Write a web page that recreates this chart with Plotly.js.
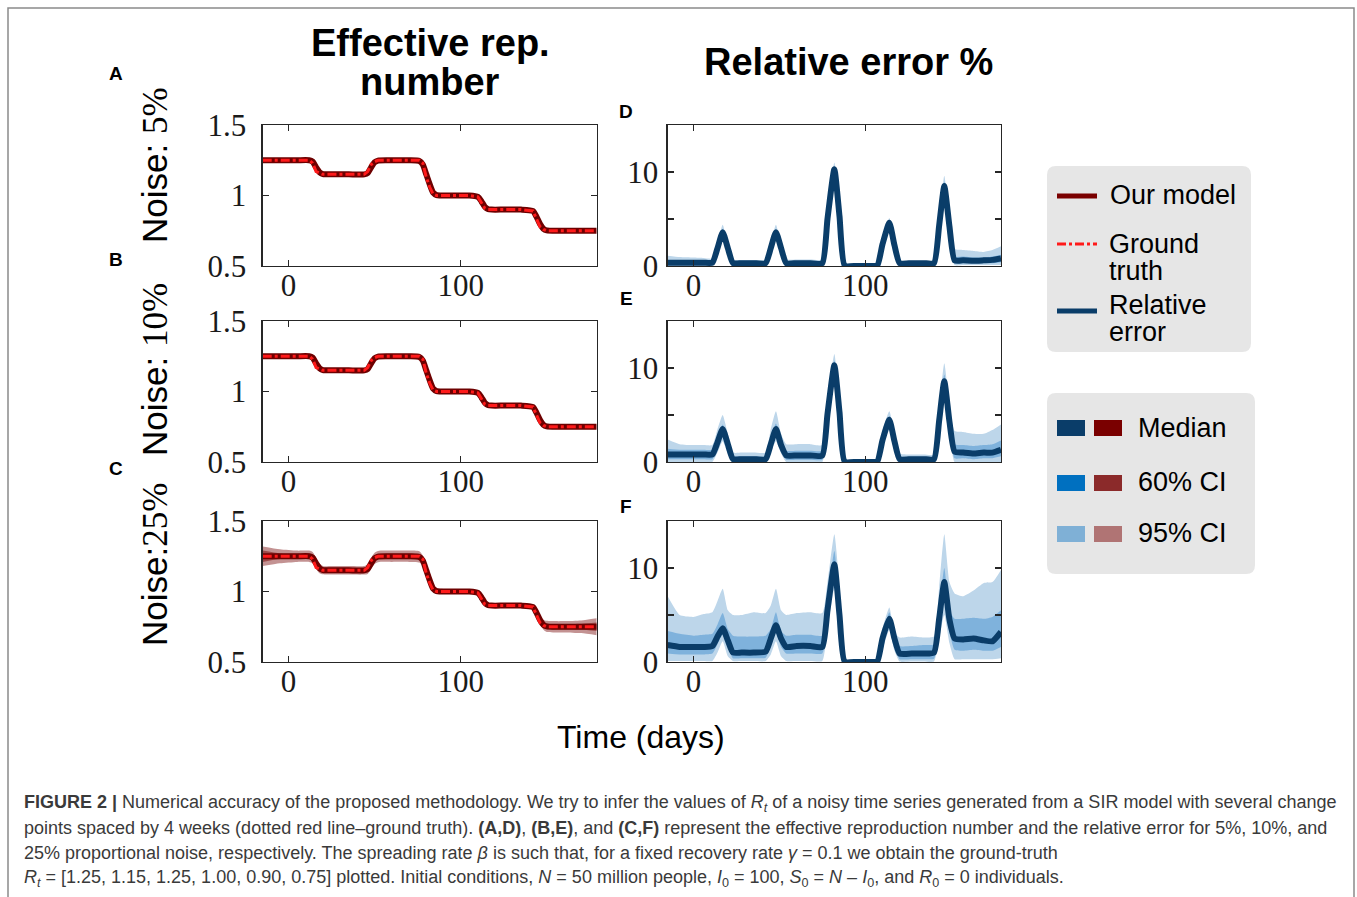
<!DOCTYPE html>
<html><head><meta charset="utf-8">
<script src="https://cdn.plot.ly/plotly-3.0.1.min.js"></script>
<style>html,body{margin:0;padding:0;background:#fff}#chart{width:1357px;height:897px}</style>
</head><body><div id="chart"></div>
<script>
// ---------- DATA ----------
const rtDays = [-15,-5,5,12,14,16,18,20,25,35, 44,46,48,50,52,60,70,76,78,80, 82,84,86,95,105,110,112,114,116,118, 125,135,142,144,146,148,150,160,170,179];
const rtModel = [1.25,1.25,1.25,1.25,1.24,1.20,1.165,1.152,1.15,1.15, 1.15,1.16,1.20,1.235,1.248,1.25,1.25,1.245,1.22,1.15, 1.08,1.02,1.003,1.0,1.0,0.99,0.96,0.92,0.903,0.90, 0.90,0.90,0.89,0.85,0.80,0.765,0.752,0.75,0.75,0.75];
const rtTruth = [1.25,1.25,1.25,1.25,1.23,1.17,1.16,1.15,1.15,1.15, 1.15,1.17,1.22,1.24,1.25,1.25,1.25,1.25,1.23,1.13, 1.06,1.01,1.0,1.0,1.0,0.99,0.95,0.91,0.9,0.9, 0.9,0.9,0.89,0.84,0.78,0.76,0.75,0.75,0.75,0.75];
const cHi95 = [1.32,1.30,1.29,1.29,1.28,1.24,1.20,1.18,1.18,1.18, 1.18,1.195,1.24,1.275,1.288,1.29,1.29,1.285,1.255,1.18, 1.105,1.04,1.023,1.015,1.015,1.005,0.975,0.935,0.918,0.915, 0.915,0.915,0.91,0.875,0.83,0.80,0.792,0.79,0.795,0.81];
const cLo95 = [1.18,1.20,1.21,1.21,1.20,1.16,1.13,1.122,1.12,1.12, 1.12,1.125,1.16,1.195,1.208,1.21,1.21,1.205,1.185,1.12, 1.055,1.0,0.983,0.985,0.985,0.975,0.945,0.905,0.888,0.885, 0.885,0.885,0.87,0.825,0.77,0.73,0.712,0.71,0.705,0.69];
const cHi60 = [1.29,1.27,1.268,1.268,1.258,1.218,1.183,1.17,1.168,1.168, 1.168,1.178,1.218,1.253,1.266,1.268,1.268,1.263,1.238,1.168, 1.095,1.032,1.013,1.008,1.008,0.998,0.968,0.928,0.911,0.908, 0.908,0.908,0.9,0.862,0.815,0.782,0.772,0.77,0.772,0.78];
const cLo60 = [1.21,1.23,1.232,1.232,1.222,1.182,1.147,1.134,1.132,1.132, 1.132,1.142,1.182,1.217,1.23,1.232,1.232,1.227,1.202,1.132, 1.065,1.008,0.993,0.992,0.992,0.982,0.952,0.912,0.895,0.892, 0.892,0.892,0.88,0.838,0.785,0.748,0.732,0.73,0.728,0.72];

const errDays = [-15,-8,0,6,11,14,17,20,23,28, 35,42,45,48,51,54,60,68,75,78, 82,85,88,95,103,107,110,114,117,120, 127,134,140,143,146,149,152,157,163,169, 174,179];
// Panel D (5% noise)
const dMed  = [0.35,0.35,0.35,0.35,0.35,1.9,3.6,1.9,0.3,0.3, 0.3,0.3,1.9,3.6,1.9,0.3,0.3,0.3,0.3,5.0, 10.3,5.3,0.05,0,0,0.05,2.3,4.6,2.2,0.3, 0.3,0.3,0.3,4.3,8.5,4.2,0.6,0.6,0.55,0.6, 0.65,0.8];
const dHi95 = [1.1,0.95,0.9,0.85,0.8,2.4,4.4,2.3,0.7,0.65, 0.65,0.65,2.4,4.4,2.3,0.7,0.7,0.7,0.7,5.6, 11.0,5.8,0.2,0,0,0.2,2.7,5.1,2.6,0.5, 0.45,0.45,0.5,4.9,9.6,4.8,1.8,1.7,1.6,1.5, 1.7,2.1];
const dLo95 = [0,0,0,0,0,1.4,2.9,1.5,0,0, 0,0,1.4,3.0,1.5,0,0,0,0,4.3, 9.6,4.8,0,0,0,0,1.9,4.1,1.8,0, 0,0,0,3.8,7.8,3.6,0.1,0.1,0.1,0.1, 0.1,0.1];
const dHi60 = [0.6,0.55,0.55,0.55,0.55,2.1,3.9,2.1,0.45,0.45, 0.45,0.45,2.1,3.9,2.1,0.45,0.45,0.45,0.45,5.3, 10.6,5.5,0.1,0,0,0.1,2.5,4.8,2.4,0.45, 0.45,0.45,0.45,4.6,9.0,4.5,1.0,1.0,0.9,0.9, 1.0,1.2];
const dLo60 = [0.1,0.1,0.1,0.1,0.1,1.7,3.3,1.7,0.1,0.1, 0.1,0.1,1.7,3.3,1.7,0.1,0.1,0.1,0.1,4.7, 10.0,5.1,0,0,0,0,2.1,4.4,2.0,0.1, 0.1,0.1,0.1,4.0,8.1,3.9,0.3,0.3,0.3,0.3, 0.3,0.4];
// Panel E (10% noise)
const eMed  = [0.8,0.8,0.8,0.8,0.8,2.1,3.5,1.9,0.3,0.3, 0.3,0.3,1.9,3.5,1.8,0.7,0.7,0.7,0.7,5.1, 10.3,5.3,0.05,0,0,0.05,2.3,4.5,2.2,0.3, 0.3,0.3,0.3,4.4,8.6,4.3,1.1,1.0,0.9,1.0, 1.0,1.3];
const eHi95 = [2.4,1.9,1.8,1.8,1.8,3.5,5.0,3.0,1.0,1.0, 1.0,1.0,3.5,5.4,3.0,1.9,1.9,1.9,1.8,6.5, 11.5,6.3,0.3,0,0,0.3,3.3,5.4,3.0,0.9, 0.8,0.8,0.8,5.8,10.5,6.0,3.3,3.2,3.0,3.0, 3.4,4.0];
const eLo95 = [0,0,0,0,0,1.0,2.2,0.9,0,0, 0,0,1.0,2.2,0.9,0,0,0,0,4.0, 9.0,4.3,0,0,0,0,1.5,3.8,1.5,0, 0,0,0,3.2,7.0,3.2,0,0,0,0, 0,0];
const eHi60 = [1.4,1.3,1.3,1.3,1.3,2.6,4.0,2.4,0.6,0.6, 0.6,0.6,2.4,4.1,2.3,1.2,1.2,1.2,1.2,5.6, 10.8,5.8,0.1,0,0,0.1,2.7,4.9,2.6,0.6, 0.55,0.55,0.55,4.9,9.3,4.9,1.9,1.8,1.7,1.8, 1.9,2.3];
const eLo60 = [0.3,0.3,0.3,0.3,0.3,1.6,3.0,1.4,0.05,0.05, 0.05,0.05,1.4,3.0,1.3,0.25,0.25,0.25,0.25,4.6, 9.8,4.8,0,0,0,0,1.9,4.1,1.8,0.05, 0.05,0.05,0.05,3.8,7.9,3.7,0.4,0.4,0.3,0.4, 0.4,0.6];
// Panel F (25% noise)
const fMed  = [1.8,1.6,1.6,1.6,1.7,2.7,3.6,2.3,1.0,1.0, 1.0,1.1,2.5,3.9,2.5,1.6,1.7,1.7,1.6,5.5, 10.4,5.0,0.05,0,0,0.05,2.5,4.6,2.5,0.9, 0.9,0.9,1.0,4.6,8.5,4.5,2.5,2.4,2.5,2.3, 2.2,3.2];
const fHi95 = [7.0,5.0,4.8,5.1,5.3,6.5,7.8,5.5,5.0,5.0, 5.3,5.2,6.0,7.8,5.5,5.0,5.2,5.3,5.2,8.5, 13.6,8.0,0.3,0,0,0.3,3.5,5.8,3.2,2.6, 2.7,2.6,2.7,8.0,13.6,8.5,7.3,7.0,7.6,8.4, 8.5,9.8];
const fLo95 = [0.1,0.1,0.1,0.1,0.1,1.0,2.2,0.6,0.1,0.1, 0.1,0.1,0.8,2.2,0.6,0.1,0.1,0.1,0.1,3.5, 7.8,3.0,0,0,0,0,1.3,3.4,1.2,0.05, 0.05,0.05,0.05,2.5,5.0,2.0,0.3,0.3,0.3,0.3, 0.3,0.4];
const fHi60 = [3.3,3.0,2.8,2.9,3.0,4.0,5.2,3.5,2.8,2.7, 2.7,2.8,3.5,5.3,3.3,2.8,2.9,2.9,2.8,6.5, 11.8,6.3,0.1,0,0,0.1,3.0,5.3,2.9,1.7, 1.7,1.8,1.9,5.5,10.0,5.5,4.6,4.6,4.7,4.6, 4.8,5.5];
const fLo60 = [0.9,0.8,0.8,0.8,0.9,1.9,2.9,1.6,0.4,0.4, 0.4,0.45,1.7,3.1,1.6,0.9,0.9,0.9,0.9,4.6, 9.3,4.0,0,0,0,0,1.9,4.1,1.8,0.3, 0.3,0.3,0.35,3.6,7.2,3.2,1.3,1.2,1.3,1.2, 1.2,1.6];

const xTicks = [0, 100];
const xTickText = ['0', '100'];
const rtTicks = [0.5, 1, 1.5];
const rtTickText = ['0.5', '1', '1.5'];
const errTicks = [0, 10];
const errTickText = ['0', '10'];
const errMinorTicks = [5];
const rowLabels = ['5%', '10%', '25%'];
const panelLetters = ['A','B','C','D','E','F'];

// ---------- STYLE / GEOMETRY ----------
const W = 1357, H = 897;
const px = x => x / W;
const py = y => 1 - y / H;
const C_MODEL = '#6e0000', C_TRUTH = '#ff1a1a';
const C_MED = '#0a3d69', C_60 = '#7fb2dc', C_95 = '#bdd6ea';
const C_R60 = '#9c4a4a', C_R95 = '#c39292';

const traces = [];
function rtPanel(ax, withBand) {
  const xa = 'x' + ax, ya = 'y' + ax;
  const sp = {shape: 'spline', smoothing: 0.6};
  if (withBand) {
    traces.push({x: rtDays, y: cLo95, xaxis: xa, yaxis: ya, mode: 'lines', line: Object.assign({width: 0, color: C_R95}, sp)});
    traces.push({x: rtDays, y: cHi95, xaxis: xa, yaxis: ya, mode: 'lines', line: Object.assign({width: 0, color: C_R95}, sp), fill: 'tonexty', fillcolor: C_R95});
    traces.push({x: rtDays, y: cLo60, xaxis: xa, yaxis: ya, mode: 'lines', line: Object.assign({width: 0, color: C_R60}, sp)});
    traces.push({x: rtDays, y: cHi60, xaxis: xa, yaxis: ya, mode: 'lines', line: Object.assign({width: 0, color: C_R60}, sp), fill: 'tonexty', fillcolor: C_R60});
  }
  traces.push({x: rtDays, y: rtModel, xaxis: xa, yaxis: ya, mode: 'lines', line: Object.assign({width: 6, color: C_MODEL}, sp)});
  traces.push({x: rtDays, y: rtTruth, xaxis: xa, yaxis: ya, mode: 'lines', line: {width: 3, color: C_TRUTH, dash: 'dashdot'}});
}
function errPanel(ax, med, lo95, hi95, lo60, hi60) {
  const xa = 'x' + ax, ya = 'y' + ax;
  const sp = {shape: 'spline', smoothing: 0.5};
  traces.push({x: errDays, y: lo95, xaxis: xa, yaxis: ya, mode: 'lines', line: Object.assign({width: 0, color: C_95}, sp)});
  traces.push({x: errDays, y: hi95, xaxis: xa, yaxis: ya, mode: 'lines', line: Object.assign({width: 0, color: C_95}, sp), fill: 'tonexty', fillcolor: C_95});
  traces.push({x: errDays, y: lo60, xaxis: xa, yaxis: ya, mode: 'lines', line: Object.assign({width: 0, color: C_60}, sp)});
  traces.push({x: errDays, y: hi60, xaxis: xa, yaxis: ya, mode: 'lines', line: Object.assign({width: 0, color: C_60}, sp), fill: 'tonexty', fillcolor: C_60});
  traces.push({x: errDays, y: med, xaxis: xa, yaxis: ya, mode: 'lines', line: Object.assign({width: 6, color: C_MED}, sp)});
}
rtPanel('', false); rtPanel('2', false); rtPanel('3', true);
errPanel('4', dMed, dLo95, dHi95, dLo60, dHi60);
errPanel('5', eMed, eLo95, eHi95, eLo60, eHi60);
errPanel('6', fMed, fLo95, fHi95, fLo60, fHi60);
traces.forEach(t => { t.showlegend = false; t.hoverinfo = 'skip'; });

const rows = [[125, 266], [321, 462], [521, 662]];
const leftX = [px(262.7), px(596.7)], rightX = [px(667.7), px(1001)];
const axBase = {
  showgrid: false, zeroline: false, showline: true, linecolor: '#262626', linewidth: 1.3,
  mirror: 'ticks', ticks: 'inside', ticklen: 6, tickwidth: 1.2, tickcolor: '#262626',
  tickfont: {family: 'Liberation Serif, serif', size: 31, color: '#1a1a1a'}, fixedrange: true
};
const layout = {
  width: W, height: H, margin: {l: 0, r: 0, t: 0, b: 0},
  paper_bgcolor: '#fff', plot_bgcolor: '#fff', showlegend: false,
  annotations: [], shapes: []
};
const names = ['', '2', '3', '4', '5', '6'];
names.forEach((n, i) => {
  const isLeft = i < 3;
  const r = rows[i % 3];
  layout['xaxis' + n] = Object.assign({}, axBase, {
    domain: isLeft ? leftX : rightX, range: [-15, 179], tickvals: xTicks, ticktext: xTickText,
    anchor: 'y' + n, ticklabelstandoff: -9
  });
  const ya = Object.assign({}, axBase, {
    domain: [py(r[1]), py(r[0])], anchor: 'x' + n,
    range: isLeft ? [0.5, 1.5] : [0, 15],
    tickvals: isLeft ? rtTicks : errTicks, ticktext: isLeft ? rtTickText : errTickText,
    ticklabelstandoff: isLeft ? 9 : 2
  });
  if (!isLeft) ya.minor = {tickmode: 'array', tickvals: errMinorTicks, ticks: 'inside', ticklen: 6, tickwidth: 1.2, tickcolor: '#262626', showgrid: false};
  layout['yaxis' + n] = ya;
});

const A = layout.annotations, S = layout.shapes;
function txt(x, y, text, size, opts) {
  A.push(Object.assign({xref: 'paper', yref: 'paper', x: px(x), y: py(y), text: text, showarrow: false,
    xanchor: 'center', yanchor: 'middle', font: {family: 'Liberation Sans, Arial, sans-serif', size: size, color: '#000'}}, opts || {}));
}
// Titles
txt(430, 43, '<b>Effective rep.</b>', 38);
txt(430, 82, '<b>number</b>', 38);
txt(848, 62, '<b>Relative error %</b>', 38);
txt(641, 737, 'Time (days)', 32);
// Row labels
const rowCenters = [165, 370, 565];
rowLabels.forEach((lab, i) => {
  const sep = i === 2 ? '' : ' ';
  txt(155, rowCenters[i], 'Noise:' + sep + '<span style="font-family:Liberation Serif">' + lab + '</span>', 35, {textangle: -90});
});
// Panel letters
const letterPos = [[116, 73], [116, 260], [116, 468], [626, 112], [626, 298], [626, 506]];
panelLetters.forEach((l, i) => txt(letterPos[i][0], letterPos[i][1], '<b>' + l + '</b>', 19));

// Legend boxes (rounded)
function rrect(x0, y0, x1, y1, r) {
  const X = v => px(v), Y = v => py(v);
  return `M ${X(x0 + r)},${Y(y0)} L ${X(x1 - r)},${Y(y0)} Q ${X(x1)},${Y(y0)} ${X(x1)},${Y(y0 + r)} L ${X(x1)},${Y(y1 - r)} Q ${X(x1)},${Y(y1)} ${X(x1 - r)},${Y(y1)} L ${X(x0 + r)},${Y(y1)} Q ${X(x0)},${Y(y1)} ${X(x0)},${Y(y1 - r)} L ${X(x0)},${Y(y0 + r)} Q ${X(x0)},${Y(y0)} ${X(x0 + r)},${Y(y0)} Z`;
}
S.push({type: 'path', xref: 'paper', yref: 'paper', path: rrect(1047, 166, 1251, 352, 9), fillcolor: '#e6e6e6', line: {width: 0}, layer: 'below'});
S.push({type: 'path', xref: 'paper', yref: 'paper', path: rrect(1047, 393, 1255, 574, 9), fillcolor: '#e6e6e6', line: {width: 0}, layer: 'below'});
function lline(y, color, w, dash) {
  S.push({type: 'line', xref: 'paper', yref: 'paper', x0: px(1057), x1: px(1097), y0: py(y), y1: py(y), line: {color: color, width: w, dash: dash || 'solid'}});
}
lline(196, '#7a0000', 5);
lline(244, C_TRUTH, 3, 'dashdot');
lline(311, C_MED, 5);
const lt = {xanchor: 'left'};
const lt2 = {xanchor: 'left', height: 25, borderpad: 0};
txt(1108, 195, 'Our model', 27, lt);
txt(1108, 243, 'Ground', 27, lt2);
txt(1108, 270, 'truth', 27, lt2);
txt(1108, 304, 'Relative', 27, lt2);
txt(1108, 331, 'error', 27, lt2);
function sw(x0, y0, color) {
  S.push({type: 'rect', xref: 'paper', yref: 'paper', x0: px(x0), x1: px(x0 + 28), y0: py(y0), y1: py(y0 + 16), fillcolor: color, line: {width: 0}});
}
sw(1057, 420, '#0a3d69'); sw(1094, 420, '#7a0000');
sw(1057, 475, '#0070c0'); sw(1094, 475, '#8b2a2a');
sw(1057, 526, '#7fb0d6'); sw(1094, 526, '#b07474');
txt(1136, 428, 'Median', 27, lt);
txt(1136, 482, '60% CI', 27, lt);
txt(1136, 533, '95% CI', 27, lt);

// Outer frame
S.push({type: 'rect', xref: 'paper', yref: 'paper', x0: px(8), x1: px(1354), y0: py(8), y1: -0.02, line: {color: '#8a8a8a', width: 1.5}, fillcolor: 'rgba(0,0,0,0)'});

// Caption
const capFont = {family: 'Liberation Sans, Arial, sans-serif', size: 18, color: '#3a3a3a'};
const capLines = [
  '<b>FIGURE 2 |</b> Numerical accuracy of the proposed methodology. We try to infer the values of <i>R<sub>t</sub></i> of a noisy time series generated from a SIR model with several change',
  'points spaced by 4 weeks (dotted red line–ground truth). <b>(A,D)</b>, <b>(B,E)</b>, and <b>(C,F)</b> represent the effective reproduction number and the relative error for 5%, 10%, and',
  '25% proportional noise, respectively. The spreading rate <i>β</i> is such that, for a fixed recovery rate <i>γ</i> = 0.1 we obtain the ground-truth',
  '<i>R<sub>t</sub></i> = [1.25, 1.15, 1.25, 1.00, 0.90, 0.75] plotted. Initial conditions, <i>N</i> = 50 million people, <i>I</i><sub>0</sub> = 100, <i>S</i><sub>0</sub> = <i>N</i> – <i>I</i><sub>0</sub>, and <i>R</i><sub>0</sub> = 0 individuals.'
];
capLines.forEach((t, i) => txt(22, 803 + i * 25, t, 18, {xanchor: 'left', font: capFont}));

Plotly.newPlot('chart', traces, layout, {staticPlot: true, displayModeBar: false});
</script></body></html>
